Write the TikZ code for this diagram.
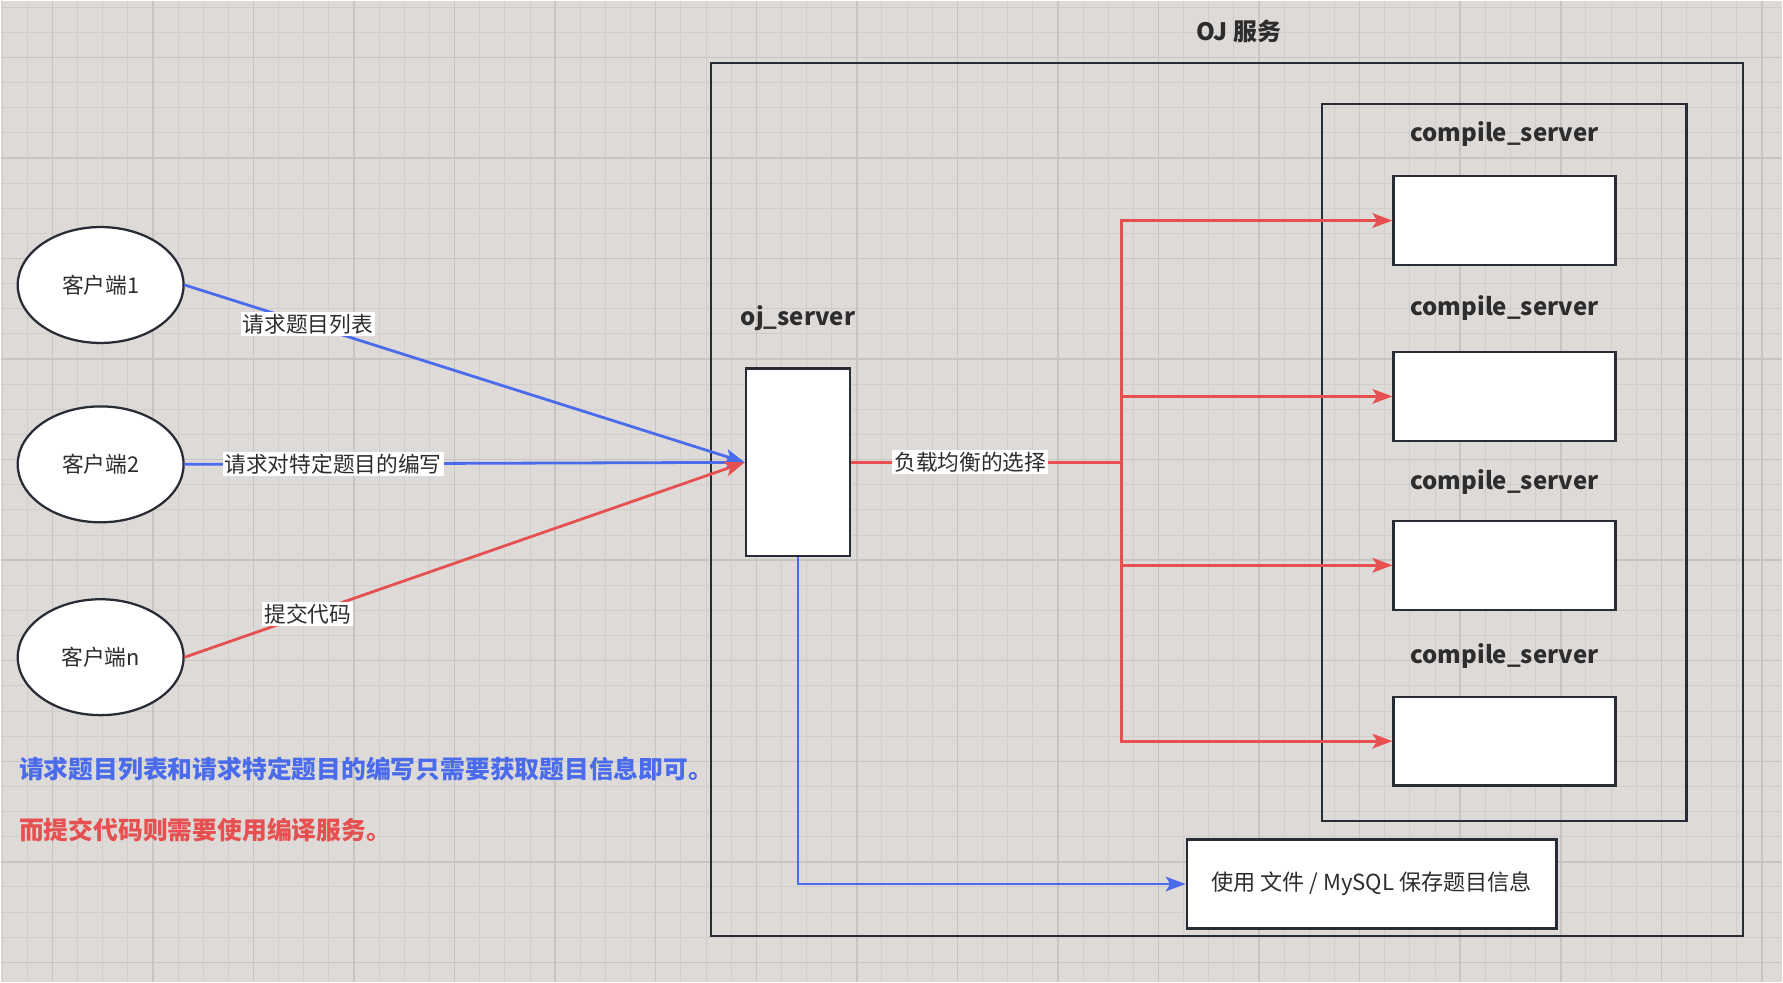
\documentclass[tikz,border=0pt]{standalone}
\usepackage{fontspec}
\setmainfont{Noto Sans CJK SC}
\usetikzlibrary{arrows.meta,shapes.geometric}

\definecolor{bgcol}{RGB}{222,218,216}
\definecolor{gridminor}{RGB}{209,205,203}
\definecolor{gridmajor}{RGB}{200,196,194}
\definecolor{boxline}{RGB}{40,44,52}
\definecolor{reqblue}{RGB}{74,108,236}
\definecolor{subred}{RGB}{230,80,80}
\definecolor{txtgray}{RGB}{45,45,45}

\tikzset{every picture/.style={line width=0.75pt},
  client/.style={ellipse, draw=boxline, fill=white, line width=1.7pt, minimum width=124.5pt, minimum height=87pt, text=txtgray, font=\fontsize{16.3}{19}\selectfont},
  srvbox/.style={draw=boxline, fill=white, line width=1.7pt},
  cbox/.style={minimum width=166.5pt, minimum height=66.75pt},
  outerframe/.style={draw=boxline, line width=1.7pt},
  headtext/.style={text=txtgray, font=\fontsize{18}{21}\selectfont\bfseries},
  edgetext/.style={fill=white, text=txtgray, inner sep=1.5pt, font=\fontsize{16.3}{19}\selectfont},
  blueflow/.style={draw=reqblue, line width=2.1pt, -{Stealth[length=15pt,width=11pt,inset=3.5pt]}},
  redflow/.style={draw=subred, line width=2.1pt, -{Stealth[length=15pt,width=11pt,inset=3.5pt]}},
  redline/.style={draw=subred, line width=2.1pt},
  notetext/.style={anchor=west, inner sep=0pt, font=\fontsize{18.6}{21}\selectfont\bfseries}
}

\begin{document}
\begin{tikzpicture}[x=0.75pt,y=0.75pt,yscale=-1,xscale=1]
%Background with grid
\fill[bgcol] (0,0) rectangle (1783,982);
\foreach \i in {0,...,70} \draw[gridminor] ({1.38+25.16*\i},0) -- ({1.38+25.16*\i},982);
\foreach \i in {0,...,38} \draw[gridminor] (0,{6.38+25.16*\i}) -- (1783,{6.38+25.16*\i});
\foreach \i in {0,...,17} \draw[gridmajor, line width=1.1pt] ({51.7+100.64*\i},0) -- ({51.7+100.64*\i},982);
\foreach \i in {0,...,9} \draw[gridmajor, line width=1.1pt] (0,{56.7+100.64*\i}) -- (1783,{56.7+100.64*\i});
\useasboundingbox (0,0) rectangle (1783,982);

%Shape: Rectangle [OJ frame]
\draw[outerframe] (711,62) rectangle (1744,936);
%Shape: Rectangle [compile group]
\draw[outerframe] (1322,103.5) rectangle (1687,821);
% Text Node
\node[headtext] (ojtitle) at (1239,31) {OJ 服务};

%Shape: Ellipse
\node[client] (c1) at (100,284.5) {客户端1};
%Shape: Ellipse
\node[client] (c2) at (100,464) {客户端2};
%Shape: Ellipse
\node[client] (cn) at (100,657) {客户端n};

%Shape: Rectangle [oj_server]
\node[srvbox, minimum width=78.4pt, minimum height=141pt] (oj) at (798,462) {};
% Text Node
\node[headtext] (ojlabel) at (798,318) {oj\_server};

%Shape: Rectangle [compile_server]
\node[srvbox, cbox] (cs1) at (1505,220) {};
\node[srvbox, cbox] (cs2) at (1505,396) {};
\node[srvbox, cbox] (cs3) at (1505,565) {};
\node[srvbox, cbox] (cs4) at (1505,741) {};
% Text Node
\node[headtext] (cl1) at (1505,133) {compile\_server};
\node[headtext] (cl2) at (1505,308) {compile\_server};
\node[headtext] (cl3) at (1505,482) {compile\_server};
\node[headtext] (cl4) at (1505,656) {compile\_server};

%Shape: Rectangle [storage]
\node[srvbox, minimum width=277.5pt, minimum height=66.75pt, text=txtgray, font=\fontsize{16.6}{19}\selectfont] (store) at (1372,884) {使用 文件 / MySQL 保存题目信息};

%Straight Lines
\draw[blueflow] (c1.east) -- node[edgetext, pos=0.22] {请求题目列表} (oj.west);
\draw[blueflow] (c2.east) -- node[edgetext, pos=0.265] {请求对特定题目的编写} (oj.west);
\draw[redflow] (cn.east) -- node[edgetext, pos=0.22] {提交代码} (oj.west);

%Straight Lines [load balancing]
\coordinate (fork) at (1122,462);
\draw[redline] (oj.east) -- node[edgetext, pos=0.44] {负载均衡的选择} (fork);
\draw[redflow] (fork) |- (cs1.west);
\draw[redflow] (fork) |- (cs2.west);
\draw[redflow] (fork) |- (cs3.west);
\draw[redflow] (fork) |- (cs4.west);

%Straight Lines [storage]
\draw[blueflow] (oj.south) |- (store.west);

% Text Node
\node[notetext, text=reqblue] (note1) at (18,769) {请求题目列表和请求特定题目的编写只需要获取题目信息即可。};
% Text Node
\node[notetext, text=subred] (note2) at (18,830) {而提交代码则需要使用编译服务。};

\end{tikzpicture}
\end{document}
